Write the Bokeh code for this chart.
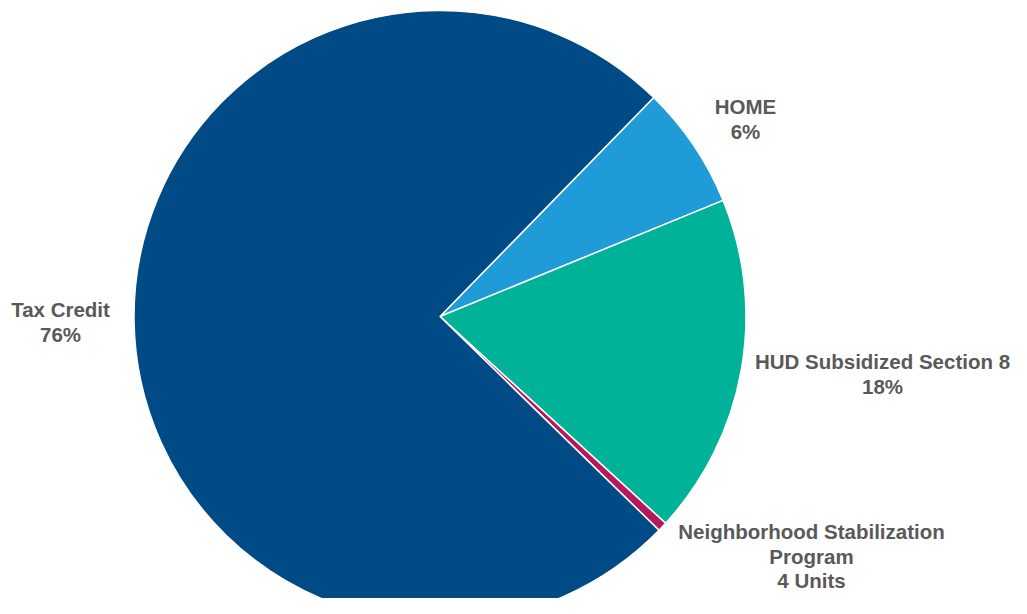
import math
from bokeh.plotting import figure
from bokeh.models import ColumnDataSource, Range1d
from bokeh.core.properties import value
from bokeh.embed import file_html
from bokeh.resources import INLINE

# Data (clockwise order starting at the HOME slice)
programs = ["HOME", "HUD Subsidized Section 8", "Neighborhood Stabilization Program", "Tax Credit"]
units = [52, 144, 4, 600]
colors = ["#1F9BD7", "#00B398", "#B5195B", "#004A86"]
label_lines = [
    ["HOME", "6%"],
    ["HUD Subsidized Section 8", "18%"],
    ["Neighborhood Stabilization", "Program", "4 Units"],
    ["Tax Credit", "76%"],
]

W, H = 1011, 598
p = figure(width=W, height=H, output_backend="svg", toolbar_location=None,
           x_range=Range1d(0, W), y_range=Range1d(614 - H, 614),
           min_border=0)
p.axis.visible = False
p.grid.visible = False
p.outline_line_color = None
p.background_fill_color = "white"
p.border_fill_color = "white"

cx, cy, r = 439.5, 614 - 316, 306
start_deg = 45.7
total = sum(units)
starts, ends = [], []
a = math.radians(start_deg)
for u in units:
    span = 2 * math.pi * u / total
    starts.append(a)
    ends.append(a - span)
    a -= span

src = ColumnDataSource(dict(start=starts, end=ends, color=colors, name=programs))
p.wedge(x=cx, y=cy, radius=r, start_angle="start", end_angle="end", direction="clock",
        fill_color="color", line_color="white", line_width=1.5, source=src)

# label anchor positions (centre of first line), in page coords
label_pos = [(745, 106), (882, 361), (811, 531), (60, 309)]
line_h = 24.5
for (lx, ly), lines in zip(label_pos, label_lines):
    xs = [lx] * len(lines)
    ys = [614 - (ly + i * line_h) for i in range(len(lines))]
    p.text(x=xs, y=ys, text=lines, text_align="center", text_baseline="middle",
           text_font=value("Liberation Sans"), text_font_style="bold",
           text_font_size="20.5px", text_color="#595959")

open("out.html", "w").write(file_html(p, INLINE))
